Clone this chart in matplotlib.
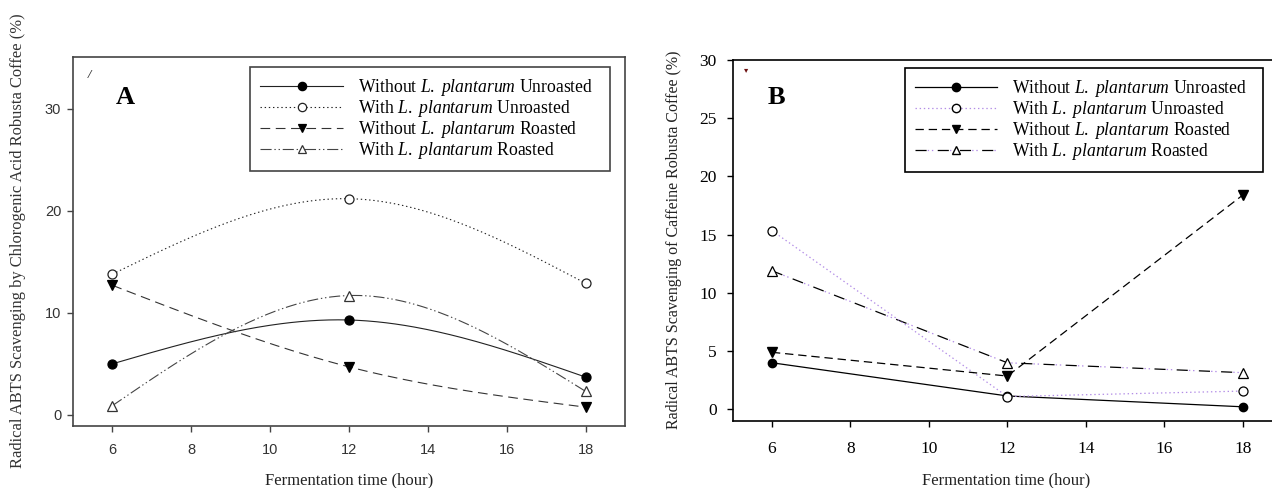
import numpy as np
import matplotlib
matplotlib.use("Agg")
import matplotlib.pyplot as plt
from matplotlib.lines import Line2D

plt.rcParams['lines.scale_dashes'] = False
plt.rcParams['mathtext.fontset'] = 'custom'
plt.rcParams['mathtext.it'] = 'Liberation Serif:italic'
plt.rcParams['mathtext.rm'] = 'Liberation Serif'

# ---------------- data ----------------
hours = [6, 12, 18]
labels = ["Without $\\mathit{L.\\ plantarum}$ Unroasted",
          "With $\\mathit{L.\\ plantarum}$ Unroasted",
          "Without $\\mathit{L.\\ plantarum}$ Roasted",
          "With $\\mathit{L.\\ plantarum}$ Roasted"]

# Panel A: chlorogenic acid
a_without_unroasted = [5.0, 9.3, 3.7]
a_with_unroasted = [13.8, 21.2, 12.9]
a_without_roasted = [12.7, 4.7, 0.75]
a_with_roasted = [0.9, 11.7, 2.3]

# Panel B: caffeine
b_without_unroasted = [4.0, 1.15, 0.22]
b_with_unroasted = [15.35, 1.1, 1.57]
b_without_roasted = [4.9, 2.86, 18.4]
b_with_roasted = [11.9, 4.0, 3.15]

W, H = 1272, 488
fig = plt.figure(figsize=(W / 100, H / 100), dpi=100)


def rect(l, t, r, b):
    return [l / W, 1 - b / H, (r - l) / W, (b - t) / H]


def natural_spline(x, y, n=200):
    x = np.asarray(x, float)
    y = np.asarray(y, float)
    k = len(x)
    h = np.diff(x)
    A = np.zeros((k, k))
    rhs = np.zeros(k)
    A[0, 0] = 1
    A[-1, -1] = 1
    for i in range(1, k - 1):
        A[i, i - 1] = h[i - 1]
        A[i, i] = 2 * (h[i - 1] + h[i])
        A[i, i + 1] = h[i]
        rhs[i] = 6 * ((y[i + 1] - y[i]) / h[i] - (y[i] - y[i - 1]) / h[i - 1])
    M = np.linalg.solve(A, rhs)
    xs = np.linspace(x[0], x[-1], n)
    ys = np.empty_like(xs)
    for j, xv in enumerate(xs):
        i = min(np.searchsorted(x, xv, side='right') - 1, k - 2)
        hi = h[i]
        a = x[i + 1] - xv
        b = xv - x[i]
        ys[j] = (M[i] * a ** 3 / (6 * hi) + M[i + 1] * b ** 3 / (6 * hi)
                 + (y[i] / hi - M[i] * hi / 6) * a + (y[i + 1] / hi - M[i + 1] * hi / 6) * b)
    return xs, ys


serif = 'Liberation Serif'
sans = 'Liberation Sans'
lavender = '#b28ce6'
LEG_FS = 12.7
EPS = 0.002

# ---------------- Panel A ----------------
axA = fig.add_axes(rect(73, 57, 625, 426))
axA.set_xlim(5, 19)
axA.set_ylim(-1.1, 35.1)

styleA = [
    dict(color='#222222', ls='-', marker='o', mfc='black', mec='black'),
    dict(color='#222222', ls=(0, (1, 2)), marker='o', mfc='white', mec='#222222'),
    dict(color='#333333', ls=(0, (7, 4)), marker='v', mfc='black', mec='black'),
    dict(color='#444444', ls=(0, (8, 2, 1, 2, 1, 2)), marker='^', mfc='white', mec='#333333'),
]
seriesA = [a_without_unroasted, a_with_unroasted, a_without_roasted, a_with_roasted]
handlesA = []
for vals, st, lab in zip(seriesA, styleA, labels):
    xs, ys = natural_spline(hours, vals)
    axA.plot(xs, ys, color=st['color'], ls=st['ls'], lw=0.8, zorder=2)
    axA.plot(hours, vals, ls='none', marker=st['marker'], ms=6.5, mfc=st['mfc'],
             mec=st['mec'], mew=0.9, zorder=3)
    handlesA.append(Line2D([], [], color=st['color'], ls=st['ls'], lw=0.8, marker=st['marker'],
                           ms=6, mfc=st['mfc'], mec=st['mec'], mew=0.9))

axA.set_xticks([6, 8, 10, 12, 14, 16, 18])
axA.set_yticks([0, 10, 20, 30])
for s in axA.spines.values():
    s.set_color('#444444')
    s.set_linewidth(1.2)
axA.tick_params(direction='out', length=4.5, width=1.0, color='#444444',
                labelsize=10.5, labelcolor='#333333')
axA.tick_params(axis='x', pad=8)
axA.tick_params(axis='y', pad=4)
for t in axA.get_xticklabels() + axA.get_yticklabels():
    t.set_fontfamily(sans)

fig.text(18 / W, 1 - 241 / H, "Radical ABTS Scavenging by Chlorogenic Acid Robusta Coffee (%)",
         rotation=90, ha='center', va='center', family=serif, fontsize=11.9, color='#333333')
fig.text(349 / W, 1 - 480 / H, "Fermentation time (hour)", ha='center', va='center',
         family=serif, fontsize=12, color='#222222')
fig.text(125 / W, 1 - 98 / H, "A", ha='center', va='center', family=serif,
         fontweight='bold', fontsize=19)
fig.text(90 / W, 1 - 75 / H, "/", ha='center', va='center', family=serif,
         fontstyle='italic', fontweight='bold', fontsize=9, color='#333333')

legA = axA.legend(handlesA, labels, loc='upper left',
                  bbox_to_anchor=(250 / W, 1 - 67 / H - EPS, (610 - 250) / W, EPS),
                  bbox_transform=fig.transFigure, mode='expand',
                  prop={'family': serif, 'size': LEG_FS}, frameon=True, fancybox=False,
                  edgecolor='#444444', framealpha=1, handlelength=4.7, handletextpad=0.85,
                  labelspacing=0.0, borderpad=0.57, borderaxespad=0)
legA.get_frame().set_linewidth(1.2)

# ---------------- Panel B ----------------
axB = fig.add_axes(rect(732.7, 60, 1282, 421))
axB.set_xlim(5, 19)
axB.set_ylim(-1, 30)

seriesB = [b_without_unroasted, b_with_unroasted, b_without_roasted, b_with_roasted]
axB.plot(hours, seriesB[0], color='black', lw=0.9, marker='o', ms=6, mfc='black', mec='black', zorder=3)
axB.plot(hours, seriesB[1], color=lavender, lw=0.9, ls=(0, (1, 2)), marker='o', ms=6.5,
         mfc='white', mec='black', mew=0.9, zorder=3)
axB.plot(hours, seriesB[2], color='black', lw=0.9, ls=(0, (6, 3.5)), marker='v', ms=6.5,
         mfc='black', mec='black', zorder=3)
axB.plot(hours, seriesB[3], color='black', lw=0.9, ls=(0, (8, 8)), zorder=2)
axB.plot(hours, seriesB[3], color=lavender, lw=0.9, ls=(7.2, (1, 2, 1, 12)), zorder=2)
axB.plot(hours, seriesB[3], ls='none', marker='^', ms=6.5, mfc='white', mec='black', mew=0.9, zorder=3)

handlesB = [
    Line2D([], [], color='black', lw=0.9, marker='o', ms=6, mfc='black', mec='black'),
    Line2D([], [], color=lavender, lw=0.9, ls=(0, (1, 2)), marker='o', ms=6, mfc='white', mec='black'),
    Line2D([], [], color='black', lw=0.9, ls=(0, (6, 3.5)), marker='v', ms=6, mfc='black', mec='black'),
    (Line2D([], [], color='black', lw=0.9, ls=(0, (8, 8))),
     Line2D([], [], color=lavender, lw=0.9, ls=(7.2, (1, 2, 1, 12))),
     Line2D([], [], ls='none', marker='^', ms=6, mfc='white', mec='black')),
]

axB.set_xticks([6, 8, 10, 12, 14, 16, 18])
axB.set_yticks([0, 5, 10, 15, 20, 25, 30])
for s in axB.spines.values():
    s.set_color('black')
    s.set_linewidth(1.2)
axB.tick_params(direction='out', length=4.5, width=1.0, labelsize=12.5)
axB.tick_params(axis='x', pad=10)
axB.tick_params(axis='y', pad=7)
for t in axB.get_xticklabels() + axB.get_yticklabels():
    t.set_fontfamily(serif)

fig.text(674 / W, 1 - 240 / H, "Radical ABTS Scavenging of Caffeine Robusta Coffee (%)",
         rotation=90, ha='center', va='center', family=serif, fontsize=11.5, color='#222222')
fig.text(1006 / W, 1 - 480 / H, "Fermentation time (hour)", ha='center', va='center',
         family=serif, fontsize=12, color='#222222')
fig.text(776 / W, 1 - 97 / H, "B", ha='center', va='center', family=serif,
         fontweight='bold', fontsize=19)
fig.text(746 / W, 1 - 70 / H, "\u25BE", ha='center', va='center', family='DejaVu Sans',
         fontsize=6, color='#6b1010')

legB = axB.legend(handlesB, labels, loc='upper left',
                  bbox_to_anchor=(904.5 / W, 1 - 68 / H - EPS, (1263 - 904.5) / W, EPS),
                  bbox_transform=fig.transFigure, mode='expand',
                  prop={'family': serif, 'size': LEG_FS}, frameon=True, fancybox=False,
                  edgecolor='black', framealpha=1, handlelength=4.7, handletextpad=0.85,
                  labelspacing=0.0, borderpad=0.57, borderaxespad=0)
legB.get_frame().set_linewidth(1.2)

fig.savefig("out.png", dpi=100)
